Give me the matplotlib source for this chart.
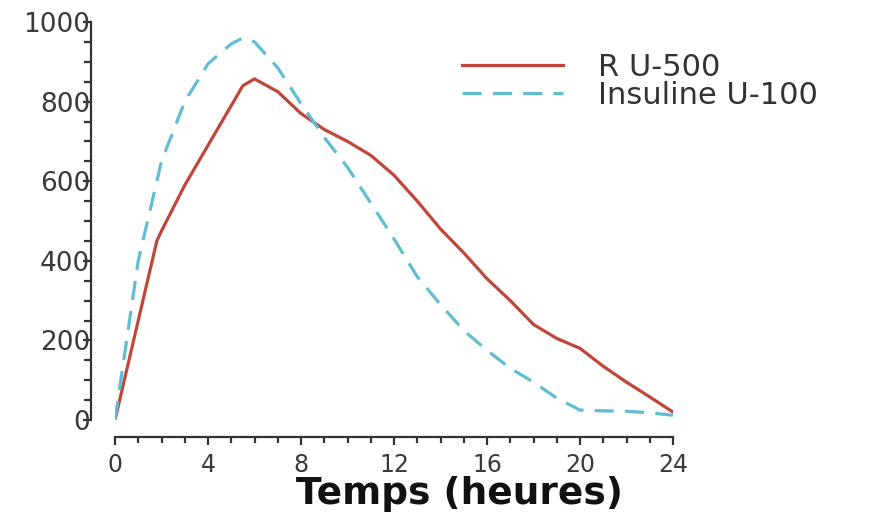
import numpy as np
import matplotlib
matplotlib.use("Agg")
from matplotlib import pyplot as plt
from matplotlib.ticker import MultipleLocator

# hours after injection
hours_r = [0, 1, 1.8, 2, 3, 4, 5, 5.5, 6, 7, 8, 9, 10, 11, 12, 13, 14, 15,
           16, 17, 18, 19, 20, 21, 22, 23, 24]
r_u500 = [0, 250, 450, 475, 590, 690, 790, 840, 857, 825, 770, 730, 700, 665,
          615, 550, 480, 420, 355, 300, 240, 205, 180, 135, 95, 58, 20]

hours_u = [0, 1, 2, 3, 4, 5, 5.5, 6, 7, 8, 9, 10, 11, 12, 13, 14, 15, 16, 17,
           18, 19, 20, 21, 22, 23, 24]
u100 = [0, 400, 650, 800, 895, 945, 960, 950, 885, 795, 710, 635, 545, 455,
        360, 290, 225, 175, 130, 95, 55, 25, 23, 22, 18, 12]

labels = ["R U-500", "Insuline U-100"]
x_ticks = [0, 4, 8, 12, 16, 20, 24]
y_ticks = [0, 200, 400, 600, 800, 1000]


def main():
    plt.rcParams['font.family'] = ['DejaVu Sans']
    fig = plt.figure(figsize=(8.74, 5.22), dpi=100)
    ax = fig.add_axes([115 / 874, 102 / 522, 558 / 874, 398 / 522])

    ax.plot(hours_r, r_u500, color='#c0463b', lw=2.3, label=labels[0],
            solid_joinstyle='round')
    ax.plot(hours_u, u100, color='#62bcd3', lw=2.3, dashes=[6, 3.5],
            label=labels[1])

    ax.set_xlim(0, 24)
    ax.set_ylim(0, 1000)

    for side in ['top', 'right']:
        ax.spines[side].set_visible(False)
    ax.spines['left'].set_position(('outward', 17))
    ax.spines['bottom'].set_position(('outward', 12))
    for side in ['left', 'bottom']:
        ax.spines[side].set_color('#333333')
        ax.spines[side].set_linewidth(1.6)

    ax.set_xticks(x_ticks)
    ax.set_yticks(y_ticks)
    ax.xaxis.set_minor_locator(MultipleLocator(1))
    ax.yaxis.set_minor_locator(MultipleLocator(50))
    ax.tick_params(axis='both', which='both', direction='out', color='#333333',
                   width=1.6, labelcolor='#3a3a3a', labelsize=17)
    ax.tick_params(axis='x', which='major', length=6, pad=6)
    ax.tick_params(axis='x', which='minor', length=4)
    ax.tick_params(axis='y', which='major', length=6, pad=-5, labelsize=19)
    ax.tick_params(axis='y', which='minor', length=5)

    ax.set_xlabel("Temps (heures)", fontsize=27, fontweight='bold', color='#111111')
    ax.xaxis.set_label_coords(0.618, -0.185)
    ax.xaxis.label.set_va('center')

    fig.legend(loc='upper left', bbox_to_anchor=(462 / 874, 1 - 53 / 522),
               frameon=False, fontsize=22, handlelength=3.3, handletextpad=1.15,
               borderpad=0, borderaxespad=0, labelspacing=-0.03,
               labelcolor='#333333')

    fig.savefig("out.png", dpi=100)


if __name__ == "__main__":
    main()
